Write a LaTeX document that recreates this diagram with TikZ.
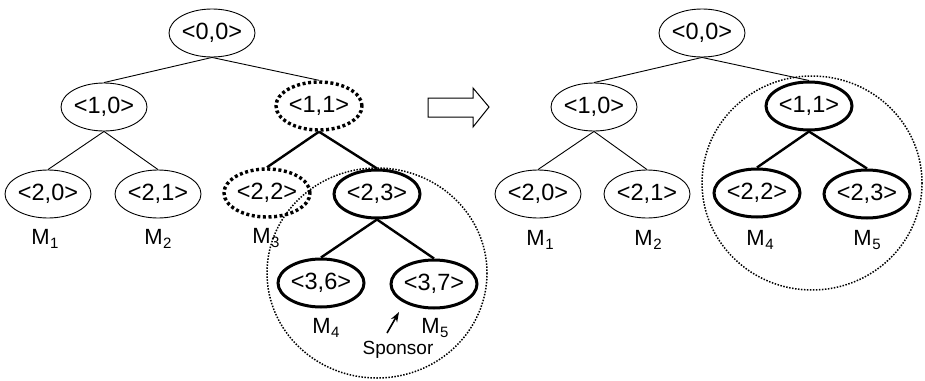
\documentclass[tikz,border=0pt]{standalone}
\usepackage{fontspec}
\setmainfont{Liberation Sans}
\usetikzlibrary{shapes.geometric,arrows.meta}
\newcommand\Msub[1]{M\kern0.5pt\raisebox{-4.5pt}{\fontsize{15}{15}\selectfont #1}}
\begin{document}
\begin{tikzpicture}[x=1pt,y=-1pt,
  nd/.style={ellipse,draw,line width=0.9pt,minimum width=86pt,minimum height=48pt,inner sep=0pt,font=\fontsize{23.5}{26}\selectfont},
  bnd/.style={nd,line width=3pt},
  dnd/.style={nd,line width=3.4pt,dash pattern=on 3pt off 2.6pt},
  ed/.style={line width=0.9pt},
  bed/.style={line width=2.4pt},
  ml/.style={font=\fontsize{22}{24}\selectfont,inner sep=0pt},
  circ/.style={line width=1.5pt,dash pattern=on 1.5pt off 1.5pt},
  blk/.style={draw,line width=1pt,line join=miter}
]
\useasboundingbox (0,0) rectangle (925,380);
% dotted groups
\draw[circ] (377,273) ellipse [x radius=110, y radius=105];
\draw[circ] (812,183) ellipse [x radius=110, y radius=107];
% left tree
\node[nd]  (a00) at (212,33) {<0,0>};
\node[nd]  (a10) at (104,107) {<1,0>};
\node[dnd] (a11) at (319,106) {<1,1>};
\node[nd]  (a20) at (48,194) {<2,0>};
\node[nd]  (a21) at (158,194) {<2,1>};
\node[dnd] (a22) at (267,193) {<2,2>};
\node[bnd] (a23) at (377,194) {<2,3>};
\node[bnd] (a36) at (321,283) {<3,6>};
\node[bnd] (a37) at (434,284) {<3,7>};
\draw[ed] (a00.south) -- (a10.north);
\draw[ed] (a00.south) -- (a11.north);
\draw[ed] (a10.south) -- (a20.north);
\draw[ed] (a10.south) -- (a21.north);
\draw[bed] (a11.south) -- (a22.north);
\draw[bed] (a11.south) -- (a23.north);
\draw[bed] (a23.south) -- (a36.north);
\draw[bed] (a23.south) -- (a37.north);
\node[ml] (lm1) at (45,239) {\Msub{1}};
\node[ml] (lm2) at (158,239) {\Msub{2}};
\node[ml] (lm3) at (266,238) {\Msub{3}};
\node[ml] (lm4) at (326,328) {\Msub{4}};
\node[ml] (lm5) at (435,328) {\Msub{5}};
\node[font=\fontsize{19}{22}\selectfont,inner sep=0pt] (sp) at (398,350) {Sponsor};
\coordinate (spa) at (387,333);
\coordinate (spb) at (399,312);
\draw[line width=1.6pt,-{Stealth[length=10pt,width=7pt]}] (spa) -- (spb);
% block arrow
\draw[blk] (428,98) -- (473,98) -- (473,88) -- (489,107) -- (473,127) -- (473,117) -- (428,117) -- cycle;
% right tree
\node[nd]  (b00) at (702,33) {<0,0>};
\node[nd]  (b10) at (594,107) {<1,0>};
\node[bnd] (b11) at (809,106) {<1,1>};
\node[nd]  (b20) at (538,194) {<2,0>};
\node[nd]  (b21) at (647,194) {<2,1>};
\node[bnd] (b22) at (757,193) {<2,2>};
\node[bnd] (b23) at (867,194) {<2,3>};
\draw[ed] (b00.south) -- (b10.north);
\draw[ed] (b00.south) -- (b11.north);
\draw[ed] (b10.south) -- (b20.north);
\draw[ed] (b10.south) -- (b21.north);
\draw[bed] (b11.south) -- (b22.north);
\draw[bed] (b11.south) -- (b23.north);
\node[ml] (rm1) at (540,240) {\Msub{1}};
\node[ml] (rm2) at (648,240) {\Msub{2}};
\node[ml] (rm4) at (760,240) {\Msub{4}};
\node[ml] (rm5) at (867,240) {\Msub{5}};
\end{tikzpicture}
\end{document}
